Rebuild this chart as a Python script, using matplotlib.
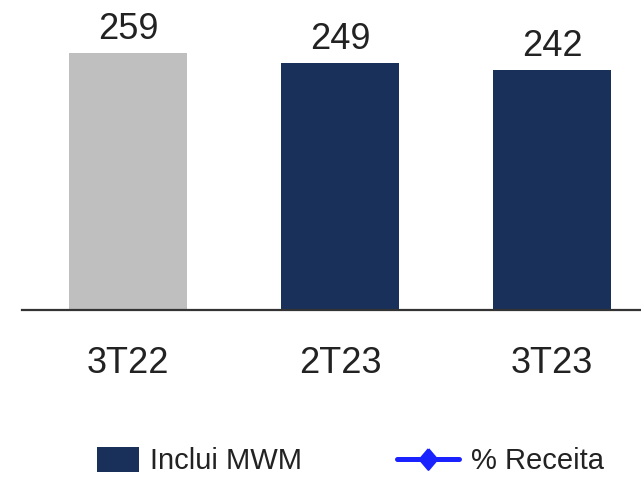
import matplotlib
matplotlib.use('Agg')
import matplotlib.pyplot as plt
from matplotlib.patches import Patch
from matplotlib.lines import Line2D

# data
periods = ['3T22', '2T23', '3T23']
values = [259, 249, 242]
bar_colors = ['#bfbfbf', '#19305b', '#19305b']

navy = '#19305b'
blue = '#1a22ff'
txt = '#222222'

plt.rcParams['font.family'] = ['Liberation Sans', 'DejaVu Sans']

fig = plt.figure(figsize=(6.41, 4.78), dpi=100)
ax = fig.add_axes([22 / 641, 168 / 478, 619 / 641, 310 / 478])

x = range(len(periods))
ax.bar(x, values, width=0.557, color=bar_colors)
ax.set_xlim(-0.5, 2.42)
ax.set_ylim(0, 312.5)

# value labels above bars
for i, v in zip(x, values):
    ax.annotate(str(v), (i, v), xytext=(0, 10), textcoords='offset points',
                ha='center', va='baseline', fontsize=26, color=txt)

# category labels under the axis line
for i, p in zip(x, periods):
    ax.annotate(p, (i, 0), xytext=(0, -45.4), textcoords='offset points',
                ha='center', va='baseline', fontsize=26, color=txt)

for s in ['top', 'right', 'left']:
    ax.spines[s].set_visible(False)
ax.spines['bottom'].set_color('#333333')
ax.spines['bottom'].set_linewidth(1.6)
ax.set_xticks([])
ax.set_yticks([])

# legends
diamond = [(0, 1), (0.85, 0), (0, -1), (-0.85, 0), (0, 1)]
h1 = Patch(facecolor=navy, edgecolor='none', label='Inclui MWM')
h2 = Line2D([0], [1], color=blue, lw=3.6, solid_capstyle='round',
            marker=diamond, markersize=15, markerfacecolor=blue,
            markeredgecolor=blue, markeredgewidth=1.5, label='% Receita')

leg1 = fig.legend(handles=[h1], loc='center left',
                  bbox_to_anchor=(97 / 641, 17 / 478), frameon=False,
                  fontsize=21, handlelength=1.45, handleheight=0.95,
                  handletextpad=0.38, borderpad=0, borderaxespad=0,
                  labelcolor=txt)
leg2 = fig.legend(handles=[h2], loc='center left',
                  bbox_to_anchor=(397 / 641, 17 / 478), frameon=False,
                  fontsize=21, handlelength=2.14, handletextpad=0.41,
                  borderpad=0, borderaxespad=0, labelcolor=txt)

fig.savefig('out.png', dpi=100)
